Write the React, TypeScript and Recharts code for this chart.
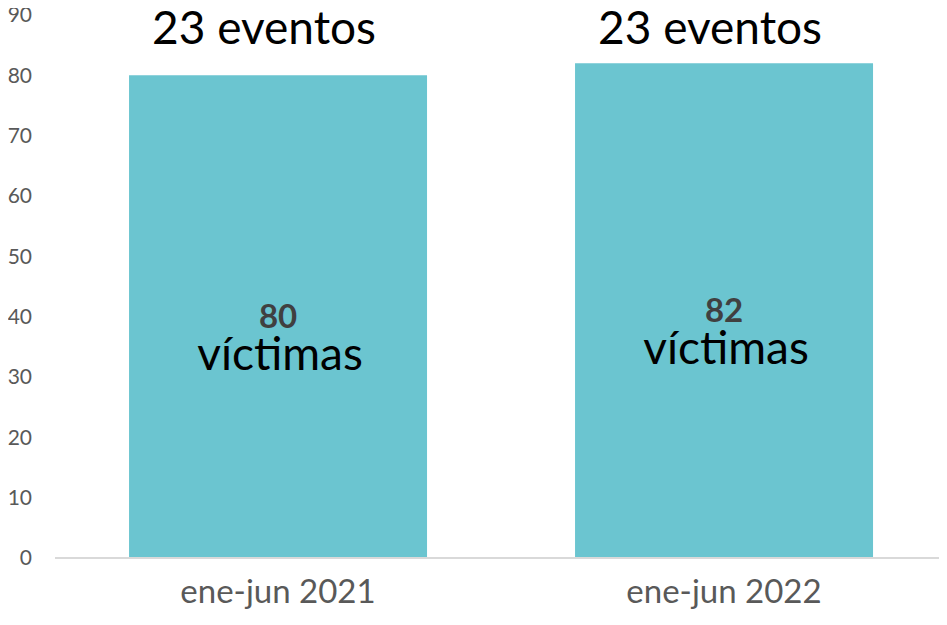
import { BarChart, Bar, XAxis, YAxis, LabelList } from "recharts"

const periods = ["ene-jun 2021", "ene-jun 2022"]
const victims = [80, 82]
const events = [23, 23]
const yTicks = [0, 10, 20, 30, 40, 50, 60, 70, 80, 90]

const data = periods.map((p, i) => ({ period: p, victims: victims[i], events: events[i] }))

const FONT = "Lato, 'Open Sans', sans-serif"

function EventLabel(props: any) {
  const { x, width, index } = props
  const cx = x + width / 2 - 14
  return (
    <text x={cx} y={26} textAnchor="middle" dominantBaseline="central" fontSize={46} fill="#000" fontFamily={FONT}>
      {`${events[index]} eventos`}
    </text>
  )
}

function VictimLabel(props: any) {
  const { x, y, width, height, value } = props
  const cx = x + width / 2
  const cy = y + height / 2
  return (
    <g>
      <text x={cx} y={cy - 2} textAnchor="middle" dominantBaseline="central" fontSize={33} fontWeight="bold" fill="#404040" fontFamily={FONT}>
        {value}
      </text>
      <text x={cx + 2} y={cy + 36} textAnchor="middle" dominantBaseline="central" fontSize={46} fill="#000" fontFamily={FONT}>
        víctimas
      </text>
    </g>
  )
}

export default function App() {
  return (
    <div style={{ margin: -8, width: 947, height: 625, background: "#fff" }}>
      <BarChart width={947} height={625} data={data} margin={{ top: 15, right: 0, bottom: 0, left: 0 }} barCategoryGap="16.6%">
        <YAxis
          domain={[0, 90]}
          ticks={yTicks}
          width={55}
          axisLine={false}
          tickLine={false}
          tickSize={0}
          tickMargin={23}
          tick={{ fontSize: 21, fill: "#595959", fontFamily: FONT }}
        />
        <XAxis
          dataKey="period"
          height={67}
          axisLine={{ stroke: "#d9d9d9", strokeWidth: 2 }}
          tickLine={false}
          tickSize={0}
          tick={{ fontSize: 33, fill: "#595959", fontFamily: FONT, dy: 20 }}
        />
        <Bar dataKey="victims" fill="#6bc5d0" isAnimationActive={false}>
          <LabelList dataKey="events" content={EventLabel} />
          <LabelList dataKey="victims" content={VictimLabel} />
        </Bar>
      </BarChart>
    </div>
  )
}
